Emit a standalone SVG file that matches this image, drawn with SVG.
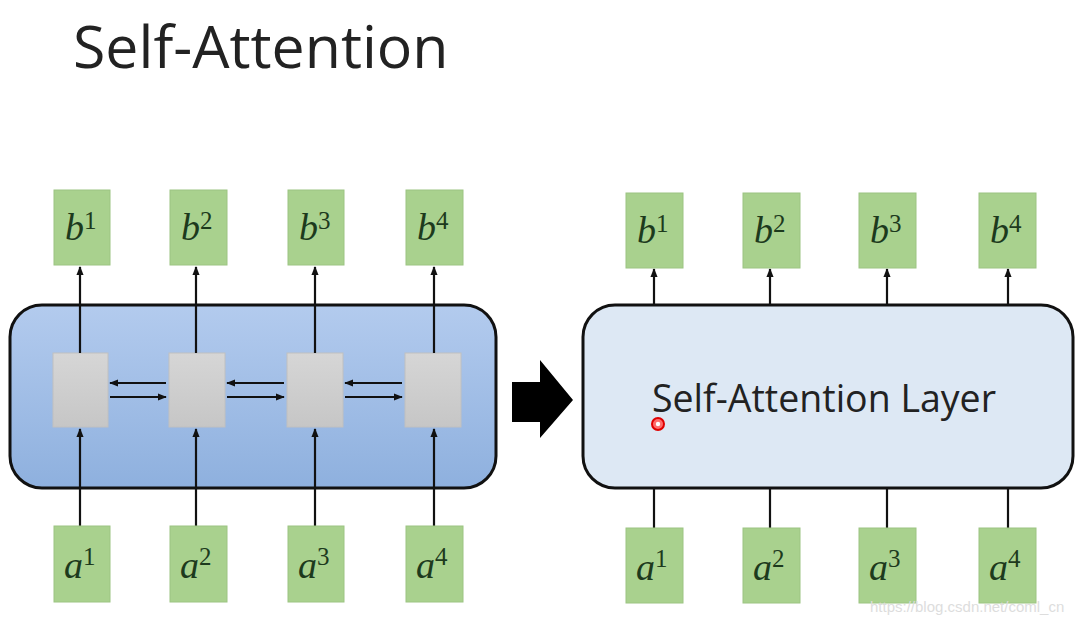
<svg xmlns="http://www.w3.org/2000/svg" width="1087" height="625" viewBox="0 0 1087 625">
<defs>
<linearGradient id="blueGrad" x1="0" y1="0" x2="0" y2="1">
<stop offset="0" stop-color="#b3cbee"/>
<stop offset="1" stop-color="#8eb0de"/>
</linearGradient>
<linearGradient id="grayGrad" x1="0" y1="0" x2="0" y2="1">
<stop offset="0" stop-color="#d6d6d6"/>
<stop offset="1" stop-color="#c6c6c6"/>
</linearGradient>
<marker id="arrS" viewBox="0 0 10 10" refX="9" refY="5" markerWidth="9" markerHeight="9" orient="auto" markerUnits="userSpaceOnUse">
<path d="M0,1 L10,5 L0,9 z" fill="#111"/>
</marker>
</defs>
<style>
.green{fill:#a9d18e;stroke:#9cc482;stroke-width:1}
.gray{fill:url(#grayGrad);stroke:#c0c0c0;stroke-width:1}
.lbl{font-family:"Liberation Serif","DejaVu Serif",serif;font-style:italic;font-size:38px;fill:#1d3a1d}
.sup{font-size:25px;font-style:normal}
.ln{stroke:#111;stroke-width:2.2;fill:none}
.title{font-family:"Open Sans","Noto Sans","Liberation Sans",sans-serif;font-size:59px;fill:#222}
.layer{font-family:"Open Sans","Noto Sans","Liberation Sans",sans-serif;font-size:37.5px;fill:#222}
</style>
<rect width="1087" height="625" fill="#ffffff"/>
<text class="title" x="73" y="68">Self-Attention</text>

<g id="leftBlock">
<rect x="10" y="305" width="486" height="183" rx="32" fill="url(#blueGrad)" stroke="#111" stroke-width="3"/>
</g>
<g id="rightBlock">
<rect x="583" y="305" width="490" height="183" rx="32" fill="#dde8f4" stroke="#111" stroke-width="3"/>
<text class="layer" x="652" y="412">Self-Attention Layer</text>
</g>

<g id="bigArrow">
<path d="M512,382 L540,382 L540,360 L573,400 L540,438 L540,422 L512,422 z" fill="#000"/>
</g>

<g id="leftCells">
<rect class="gray" x="53" y="353" width="55" height="74"/>
<rect class="gray" x="169" y="353" width="56" height="74"/>
<rect class="gray" x="287" y="353" width="56" height="74"/>
<rect class="gray" x="405" y="353" width="56" height="74"/>
</g>

<g id="connectors">
<line class="ln" x1="80" y1="526" x2="80" y2="429" marker-end="url(#arrS)"/>
<line class="ln" x1="196" y1="526" x2="196" y2="429" marker-end="url(#arrS)"/>
<line class="ln" x1="315" y1="526" x2="315" y2="429" marker-end="url(#arrS)"/>
<line class="ln" x1="434" y1="526" x2="434" y2="429" marker-end="url(#arrS)"/>
<line class="ln" x1="80" y1="353" x2="80" y2="267" marker-end="url(#arrS)"/>
<line class="ln" x1="196" y1="353" x2="196" y2="267" marker-end="url(#arrS)"/>
<line class="ln" x1="315" y1="353" x2="315" y2="267" marker-end="url(#arrS)"/>
<line class="ln" x1="434" y1="353" x2="434" y2="267" marker-end="url(#arrS)"/>
<line class="ln" x1="166" y1="383" x2="110" y2="383" marker-end="url(#arrS)"/>
<line class="ln" x1="110" y1="397" x2="166" y2="397" marker-end="url(#arrS)"/>
<line class="ln" x1="284" y1="383" x2="227" y2="383" marker-end="url(#arrS)"/>
<line class="ln" x1="227" y1="397" x2="284" y2="397" marker-end="url(#arrS)"/>
<line class="ln" x1="402" y1="383" x2="345" y2="383" marker-end="url(#arrS)"/>
<line class="ln" x1="345" y1="397" x2="402" y2="397" marker-end="url(#arrS)"/>
<line class="ln" x1="654" y1="305" x2="654" y2="269" marker-end="url(#arrS)"/>
<line class="ln" x1="770" y1="305" x2="770" y2="269" marker-end="url(#arrS)"/>
<line class="ln" x1="887" y1="305" x2="887" y2="269" marker-end="url(#arrS)"/>
<line class="ln" x1="1008" y1="305" x2="1008" y2="269" marker-end="url(#arrS)"/>
<line class="ln" x1="654" y1="528" x2="654" y2="488"/>
<line class="ln" x1="770" y1="528" x2="770" y2="488"/>
<line class="ln" x1="887" y1="528" x2="887" y2="488"/>
<line class="ln" x1="1008" y1="528" x2="1008" y2="488"/>
</g>

<g id="b1L"><rect class="green" x="54" y="190" width="56" height="75"/><text class="lbl" x="65" y="240">b<tspan class="sup" dy="-11">1</tspan></text></g>
<g id="b2L"><rect class="green" x="170" y="190" width="57" height="75"/><text class="lbl" x="181" y="240">b<tspan class="sup" dy="-11">2</tspan></text></g>
<g id="b3L"><rect class="green" x="288" y="190" width="56" height="75"/><text class="lbl" x="299" y="240">b<tspan class="sup" dy="-11">3</tspan></text></g>
<g id="b4L"><rect class="green" x="406" y="190" width="57" height="75"/><text class="lbl" x="417" y="240">b<tspan class="sup" dy="-11">4</tspan></text></g>

<g id="a1L"><rect class="green" x="54" y="526" width="56" height="76"/><text class="lbl" x="64" y="578">a<tspan class="sup" dy="-13">1</tspan></text></g>
<g id="a2L"><rect class="green" x="170" y="526" width="57" height="76"/><text class="lbl" x="180" y="578">a<tspan class="sup" dy="-13">2</tspan></text></g>
<g id="a3L"><rect class="green" x="288" y="526" width="56" height="76"/><text class="lbl" x="298" y="578">a<tspan class="sup" dy="-13">3</tspan></text></g>
<g id="a4L"><rect class="green" x="406" y="526" width="57" height="76"/><text class="lbl" x="416" y="578">a<tspan class="sup" dy="-13">4</tspan></text></g>

<g id="b1R"><rect class="green" x="626" y="193" width="57" height="75"/><text class="lbl" x="637" y="243">b<tspan class="sup" dy="-11">1</tspan></text></g>
<g id="b2R"><rect class="green" x="743" y="193" width="57" height="75"/><text class="lbl" x="754" y="243">b<tspan class="sup" dy="-11">2</tspan></text></g>
<g id="b3R"><rect class="green" x="859" y="193" width="57" height="75"/><text class="lbl" x="870" y="243">b<tspan class="sup" dy="-11">3</tspan></text></g>
<g id="b4R"><rect class="green" x="979" y="193" width="57" height="75"/><text class="lbl" x="990" y="243">b<tspan class="sup" dy="-11">4</tspan></text></g>

<g id="a1R"><rect class="green" x="626" y="528" width="57" height="75"/><text class="lbl" x="636" y="580">a<tspan class="sup" dy="-13">1</tspan></text></g>
<g id="a2R"><rect class="green" x="743" y="528" width="57" height="75"/><text class="lbl" x="753" y="580">a<tspan class="sup" dy="-13">2</tspan></text></g>
<g id="a3R"><rect class="green" x="859" y="528" width="57" height="75"/><text class="lbl" x="869" y="580">a<tspan class="sup" dy="-13">3</tspan></text></g>
<g id="a4R"><rect class="green" x="979" y="528" width="57" height="75"/><text class="lbl" x="989" y="580">a<tspan class="sup" dy="-13">4</tspan></text></g>

<g id="pointer">
<circle cx="658" cy="424" r="6" fill="#ff6b6b" stroke="#e00000" stroke-width="2"/>
<circle cx="658" cy="424" r="2.2" fill="#ffffff"/>
</g>
<text x="870" y="612" font-family="Liberation Sans, Arial, sans-serif" font-size="15" fill="#dddddd">https://blog.csdn.net/coml_cn</text>
</svg>
